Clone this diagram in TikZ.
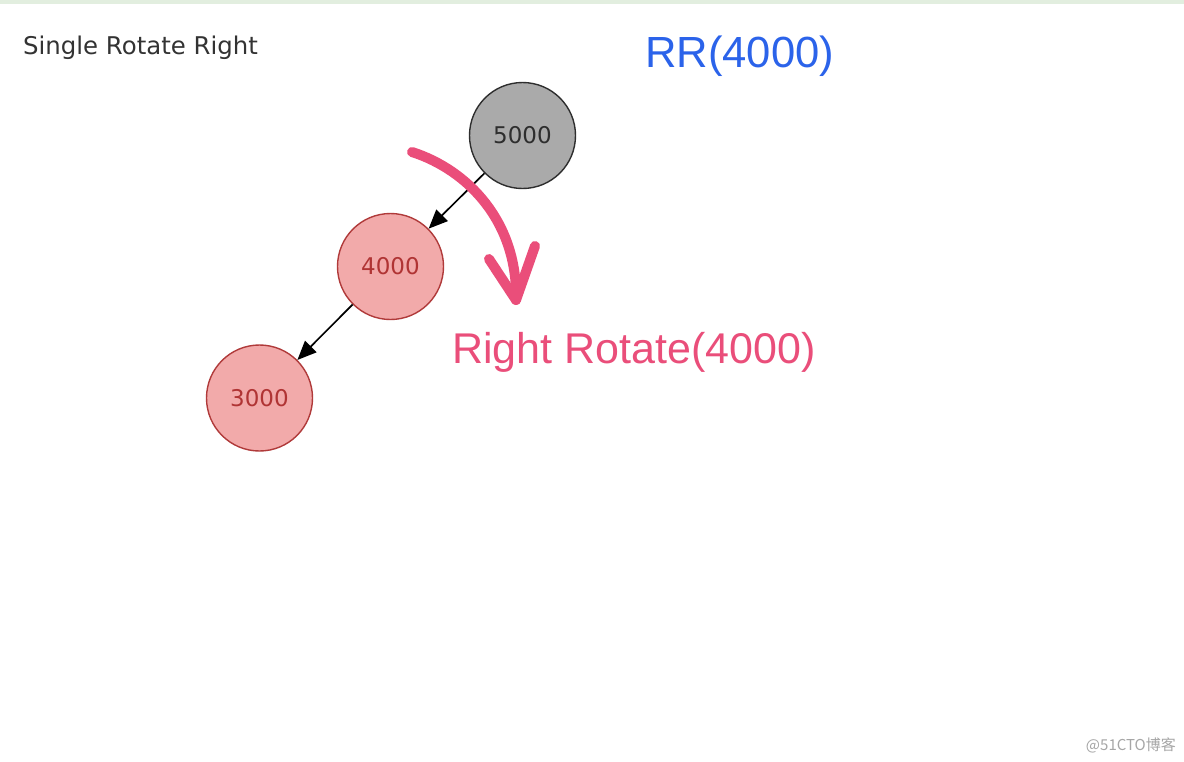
\documentclass[tikz,border=0pt]{standalone}
\usepackage{fontspec}
\setmainfont{Liberation Sans}
\newfontfamily\dejavu{DejaVu Sans}
\newfontfamily\cjk{Noto Sans CJK SC}
\usetikzlibrary{arrows.meta}
\definecolor{topstrip}{HTML}{E2EEDF}
\definecolor{greyfill}{HTML}{AAAAAA}
\definecolor{greyline}{HTML}{2E2E2E}
\definecolor{pinkfill}{HTML}{F2AAAA}
\definecolor{pinkline}{HTML}{B03A3A}
\definecolor{pinktext}{HTML}{B03434}
\definecolor{hotpink}{HTML}{EA4E7A}
\definecolor{rrblue}{HTML}{2B63EA}
\definecolor{titlegrey}{HTML}{333333}
\tikzset{
  treenode/.style={circle, minimum size=106pt, inner sep=0pt, line width=1.4pt,
    font=\dejavu\fontsize{23}{23}\selectfont},
  blacknode/.style={treenode, fill=greyfill, draw=greyline, text=greyline},
  rednode/.style={treenode, fill=pinkfill, draw=pinkline, text=pinktext},
  treeedge/.style={line width=1.7pt, -{Triangle[length=19pt,width=16pt]}},
  rotarrow/.style={hotpink, line width=10pt, line cap=round, line join=round},
}
\begin{document}
\begin{tikzpicture}[x=1pt,y=-1pt]
\useasboundingbox (0,0) rectangle (1184,761);
\fill[white] (0,0) rectangle (1184,761);
\fill[topstrip] (0,0) rectangle (1184,3.5);
\node[anchor=base west, inner sep=0pt, text=titlegrey, font=\dejavu\fontsize{24.4}{25}\selectfont] (title) at (23,54) {Single Rotate Right};
\node[anchor=base west, inner sep=0pt, text=rrblue, font=\fontsize{43.6}{45}\selectfont] (rr) at (645,67) {RR(4000)};
\node[blacknode] (n5000) at (522.5,135.5) {5000};
\node[rednode] (n4000) at (390.5,266.5) {4000};
\node[rednode] (n3000) at (259.5,398) {3000};
\draw[treeedge] (n5000) -- (n4000);
\draw[treeedge] (n4000) -- (n3000);
\coordinate (rs) at (412,152);
\coordinate (rt) at (516,300);
\coordinate (ral) at (489,259);
\coordinate (rar) at (535,246);
\draw[rotarrow] (rs) .. controls (468,170) and (518,222) .. (rt);
\draw[rotarrow] (ral) -- (rt) -- (rar);
\node[anchor=base west, inner sep=0pt, text=hotpink, font=\fontsize{43}{44}\selectfont] (rot) at (452,363) {Right Rotate(4000)};
\node[anchor=base east, inner sep=0pt, text=black!35, font=\cjk\fontsize{15}{16}\selectfont] (wm) at (1176,750) {@51CTO博客};
\end{tikzpicture}
\end{document}
